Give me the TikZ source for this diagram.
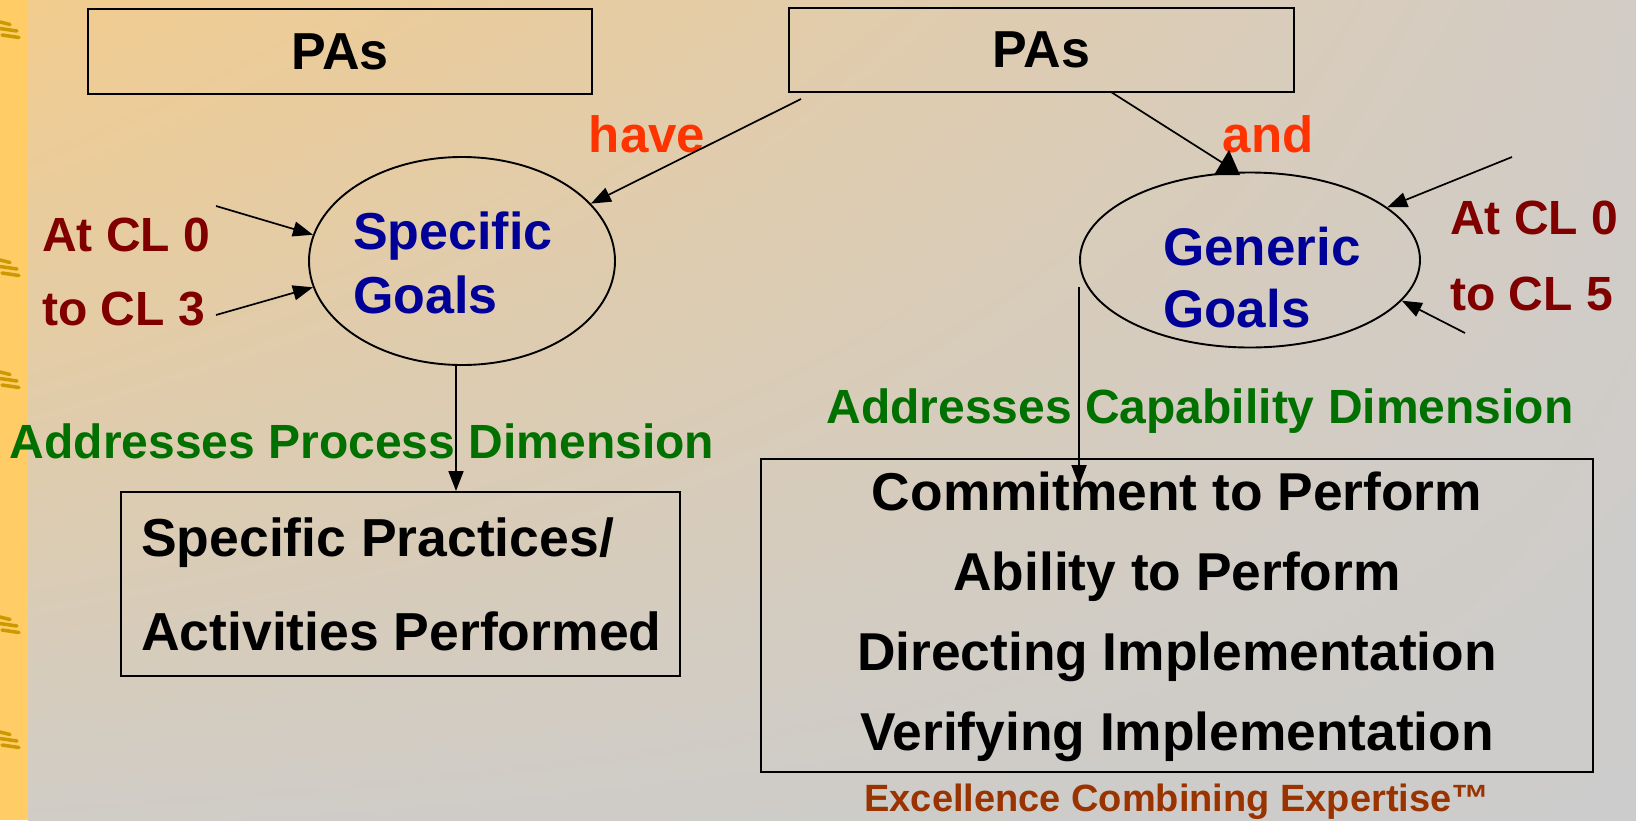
\documentclass[tikz,border=0pt]{standalone}
\usepackage{fontspec}
\setmainfont{Liberation Sans}
\usetikzlibrary{arrows.meta,shapes.geometric,shadings}
\definecolor{strip}{HTML}{FFCC66}
\definecolor{gold}{HTML}{CC9900}
\definecolor{bgA}{HTML}{F2CC8E}
\definecolor{bgB}{HTML}{D2CCC6}
\definecolor{bgC}{HTML}{D0CCC6}
\definecolor{bgD}{HTML}{CCCCCC}
\definecolor{orred}{HTML}{FF3300}
\definecolor{dred}{HTML}{800000}
\definecolor{navy}{HTML}{000099}
\definecolor{dgreen}{HTML}{007000}
\definecolor{brown}{HTML}{993300}
\begin{document}
\begin{tikzpicture}[x=1pt,y=-1pt,
  box/.style={draw=black, line width=1.9pt, inner sep=0pt},
  oval/.style={ellipse, draw=black, line width=1.9pt, inner sep=0pt},
  arr/.style={line width=1.7pt, -{Triangle[length=20pt,width=15pt]}},
  big/.style={font=\fontsize{52}{60}\selectfont\bfseries},
  inner sep=0pt]
\useasboundingbox (0,0) rectangle (1636,820);
% background
\shade[upper left=bgA, upper right=bgB, lower left=bgC, lower right=bgD] (28,0) rectangle (1636,820);
\fill[strip] (0,0) rectangle (28,820);
\foreach \yy in {31,269,381,626,741} {
  \draw[gold, line width=3.5pt, line cap=round] (0,\yy-9) -- (10,\yy-6.5);
  \draw[gold, line width=3.5pt, line cap=round] (0,\yy-2.5) -- (17,\yy);
  \draw[gold, line width=3.5pt, line cap=round] (2,\yy+4) -- (19,\yy+6.5);
}
% boxes
\node[box, minimum width=504pt, minimum height=85pt, big] (PAL) at (340,51.5) {PAs};
\node[box, minimum width=505pt, minimum height=84pt, big] (PAR) at (1041.5,50) {PAs};
\node[font=\fontsize{51}{60}\selectfont\bfseries, text=orred] (have) at (647,134) {have};
\node[font=\fontsize{51}{60}\selectfont\bfseries, text=orred] (and) at (1268,134) {and};
% ellipses
\node[oval, minimum width=306pt, minimum height=208pt] (SG) at (462,261) {};
\node[oval, minimum width=340pt, minimum height=175pt] (GG) at (1250,260) {};
\node[font=\fontsize{52}{64}\selectfont\bfseries, text=navy, align=left, anchor=west] (SGt) at (353,263) {Specific\\Goals};
\node[font=\fontsize{53}{62}\selectfont\bfseries, text=navy, align=left, anchor=west] (GGt) at (1163,278) {Generic\\Goals};
% CL labels
\node[font=\fontsize{48}{74}\selectfont\bfseries, text=dred, align=left, anchor=west] (CL3) at (42,272) {At CL 0\\to CL 3};
\node[font=\fontsize{48}{76}\selectfont\bfseries, text=dred, align=left, anchor=west] (CL5) at (1450,256) {At CL 0\\to CL 5};
% dimension labels
\node[font=\fontsize{48}{58}\selectfont\bfseries, text=dgreen] (PD) at (362,441) {Addresses Process Dimension};
\node[font=\fontsize{48}{58}\selectfont\bfseries, text=dgreen] (CD) at (1200,411) {Addresses Capability Dimension};
% practice boxes
\node[box, minimum width=559pt, minimum height=184pt] (SP) at (400.5,584) {};
\node[font=\fontsize{53.5}{94}\selectfont\bfseries, align=left, anchor=west] (SPt) at (141,584) {Specific Practices/\\Activities Performed};
\node[box, minimum width=832pt, minimum height=313pt] (GP) at (1177,615.5) {};
\node[font=\fontsize{53.3}{80}\selectfont\bfseries, align=center] (GPt) at (1177,617) {Commitment to Perform\\Ability to Perform\\Directing Implementation\\Verifying Implementation};
\node[font=\fontsize{38}{44}\selectfont\bfseries, text=brown] (foot) at (1177,802) {Excellence Combining Expertise™};
% connectors
\coordinate (h0) at (801,99);
\coordinate (a0) at (1111,92);
\coordinate (l1) at (216,206);
\coordinate (l2) at (216,315);
\coordinate (r1) at (1512,157);
\coordinate (r2) at (1465,333);
\draw[arr] (h0) -- (SG.24);
\draw[line width=1.7pt] (a0) -- (1226,165);
\fill[black] (1229,150) -- (1240,175) -- (1214,175) -- cycle;
\draw[arr] (l1) -- (SG.170);
\draw[arr] (l2) -- (SG.190);
\draw[arr] (r1) -- (GG.21);
\draw[arr] (r2) -- (GG.-15);
\draw[arr] ([xshift=-6pt]SG.south) -- ([xshift=-6pt]SG.south |- SP.north);
\draw[arr] ([yshift=-27pt]GG.west) -- ([yshift=-27pt]GG.west |- GP.north);
\end{tikzpicture}
\end{document}
